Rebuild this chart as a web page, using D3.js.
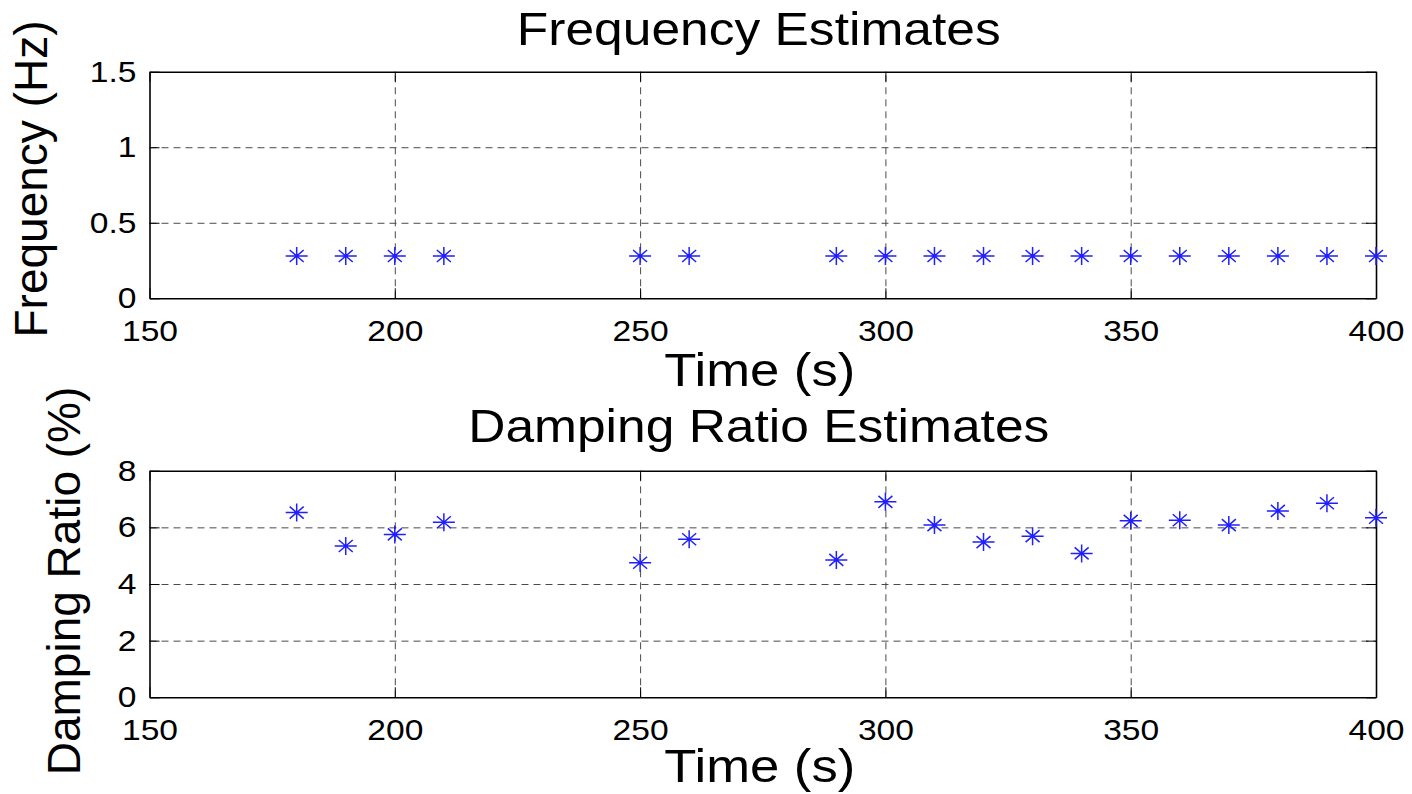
<!DOCTYPE html>
<html>
<head>
<meta charset="utf-8">
<script src="https://cdn.jsdelivr.net/npm/d3@7"></script>
<style>
  html, body { margin: 0; padding: 0; background: #fff; }
  text { font-family: "Liberation Sans", Arial, sans-serif; fill: #000; }
</style>
</head>
<body>
<svg id="svg" width="1412" height="794"></svg>
<script>
//Data
const TIMES = [180, 190, 200, 210, 250, 260, 290, 300, 310, 320, 330, 340, 350, 360, 370, 380, 390, 400];
const FREQUENCY = [0.28, 0.28, 0.28, 0.28, 0.28, 0.28, 0.28, 0.28, 0.28, 0.28, 0.28, 0.28, 0.28, 0.28, 0.28, 0.28, 0.28, 0.28];
const DAMPING = [6.52, 5.34, 5.75, 6.18, 4.75, 5.58, 4.85, 6.90, 6.08, 5.48, 5.69, 5.08, 6.23, 6.25, 6.08, 6.58, 6.85, 6.34];
const X_TICKS = [150, 200, 250, 300, 350, 400];
const X_GRID = [200, 250, 300, 350];
const FREQ_TICKS = [0, 0.5, 1, 1.5];
const DAMP_TICKS = [0, 2, 4, 6, 8];

const SVG = d3.select("#svg");
const LEFT = 149.5;
const RIGHT = 1376;
const STRETCH = 1.12;

function drawPanel(cfg)
{
    let x_scale = d3.scaleLinear().domain([150, 400]).range([LEFT, RIGHT]);
    let y_scale = d3.scaleLinear().domain(cfg.yDomain).range([cfg.bottom, cfg.top]);
    let g = SVG.append("g");
    let h = cfg.bottom - cfg.top;
    let w = RIGHT - LEFT;

    //Grid
    g.append("g")
        .attr("transform", "translate(0," + cfg.bottom + ")")
        .call(d3.axisBottom(x_scale).tickValues(X_GRID).tickSize(-h).tickFormat(""))
        .call(s => s.select(".domain").remove())
        .selectAll("line").attr("stroke", "#4a4a4a").attr("stroke-dasharray", "7,5");
    g.append("g")
        .attr("transform", "translate(" + LEFT + ",0)")
        .call(d3.axisLeft(y_scale).tickValues(cfg.yGrid).tickSize(-w).tickFormat(""))
        .call(s => s.select(".domain").remove())
        .selectAll("line").attr("stroke", "#4a4a4a").attr("stroke-dasharray", "7,5");

    //Axes with inward ticks
    let xb = g.append("g")
        .attr("transform", "translate(0," + cfg.bottom + ")")
        .call(d3.axisBottom(x_scale).tickValues(X_TICKS).tickSize(-10).tickSizeOuter(0).tickPadding(21));
    let xt = g.append("g")
        .attr("transform", "translate(0," + cfg.top + ")")
        .call(d3.axisTop(x_scale).tickValues(X_TICKS).tickSize(-10).tickSizeOuter(0).tickFormat(""));
    let yl = g.append("g")
        .attr("transform", "translate(" + LEFT + ",0)")
        .call(d3.axisLeft(y_scale).tickValues(cfg.yTicks).tickSize(-10).tickSizeOuter(0)
            .tickFormat(d => String(d)));
    let yr = g.append("g")
        .attr("transform", "translate(" + RIGHT + ",0)")
        .call(d3.axisRight(y_scale).tickValues(cfg.yTicks).tickSize(-10).tickSizeOuter(0).tickFormat(""));
    [xb, xt, yl, yr].forEach(a => {
        a.select(".domain").attr("stroke", "#000").attr("stroke-width", 1.6);
        a.selectAll("line").attr("stroke", "#000");
    });
    xb.selectAll("text")
        .attr("font-size", 30).attr("fill", "#000")
        .attr("font-family", "Liberation Sans, Arial, sans-serif")
        .attr("transform", "scale(" + STRETCH + ",1)");
    yl.selectAll("text")
        .attr("font-size", 30).attr("fill", "#000")
        .attr("font-family", "Liberation Sans, Arial, sans-serif")
        .attr("text-anchor", "end")
        .attr("transform", "scale(" + STRETCH + ",1)")
        .attr("x", -13 / STRETCH);

    //Markers
    let star = "M-11,0L11,0M0,-9L0,9M-7,-6L7,6M-7,6L7,-6";
    g.append("g")
        .selectAll("path")
        .data(TIMES.map((t, i) => ({ t: t, v: cfg.values[i] })))
        .enter().append("path")
        .attr("d", star)
        .attr("transform", d => "translate(" + x_scale(d.t) + "," + y_scale(d.v) + ")")
        .attr("fill", "none")
        .attr("stroke", "#1f1fff")
        .attr("stroke-width", 1.5);

    //Labels
    let cx = (LEFT + RIGHT) / 2;
    g.append("text")
        .attr("text-anchor", "middle")
        .attr("font-size", 46)
        .attr("transform", "translate(" + (cx - 4) + "," + cfg.titleY + ") scale(" + STRETCH + ",1)")
        .text(cfg.title);
    g.append("text")
        .attr("text-anchor", "middle")
        .attr("font-size", 47)
        .attr("transform", "translate(" + (cx - 3) + "," + cfg.xLabelY + ") scale(" + STRETCH + ",1)")
        .text("Time (s)");
    g.append("text")
        .attr("text-anchor", "middle")
        .attr("font-size", 46)
        .attr("transform", "translate(" + cfg.yLabelX + "," + cfg.yLabelCY + ") rotate(-90)")
        .text(cfg.yLabel);
}

drawPanel({
    top: 71.7, bottom: 298.3, yDomain: [0, 1.5],
    yTicks: FREQ_TICKS, yGrid: [0.5, 1],
    values: FREQUENCY,
    title: "Frequency Estimates", titleY: 45, xLabelY: 386,
    yLabel: "Frequency (Hz)", yLabelX: 47, yLabelCY: 179
});
drawPanel({
    top: 470.7, bottom: 697.3, yDomain: [0, 8],
    yTicks: DAMP_TICKS, yGrid: [2, 4, 6],
    values: DAMPING,
    title: "Damping Ratio Estimates", titleY: 442, xLabelY: 782,
    yLabel: "Damping Ratio (%)", yLabelX: 80, yLabelCY: 581
});
</script>
</body>
</html>
